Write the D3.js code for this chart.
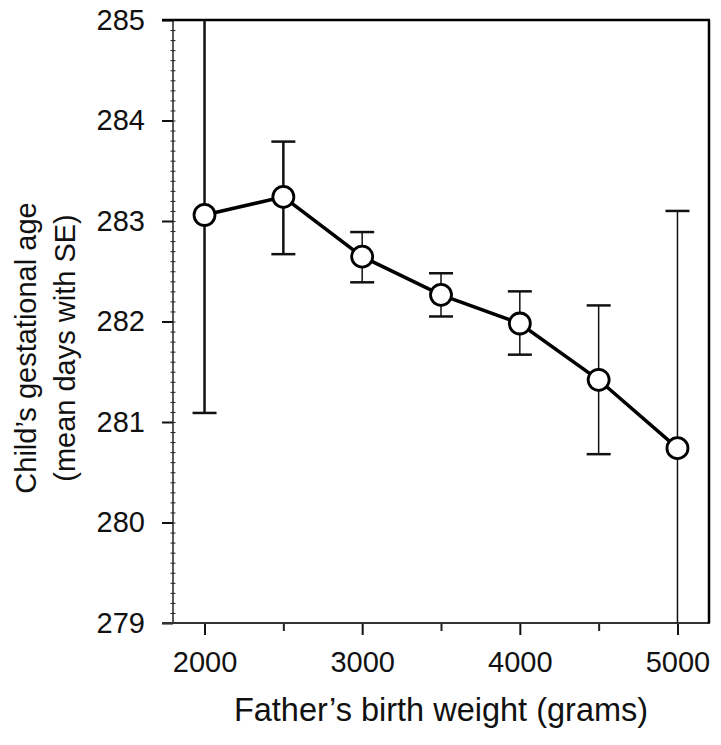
<!DOCTYPE html>
<html>
<head>
<meta charset="utf-8">
<script src="https://cdn.jsdelivr.net/npm/d3@7"></script>
<style>
	body { margin: 0; background: #fff; }
	svg { display: block; font-family: "Liberation Sans", Arial, sans-serif; }
</style>
</head>
<body>
<svg></svg>
<script>
// data
var weights = [2000, 2500, 3000, 3500, 4000, 4500, 5000];
var meanDays = [283.06, 283.24, 282.645, 282.265, 281.98, 281.42, 280.74];
var upperSE = [285.03, 283.79, 282.89, 282.48, 282.30, 282.16, 283.10];
var lowerSE = [281.09, 282.67, 282.39, 282.05, 281.67, 280.68, 278.38];
var xTicks = [2000, 3000, 4000, 5000];
var yTicks = [279, 280, 281, 282, 283, 284, 285];

var width = 721;
var height = 745;
var plotLeft = 173, plotRight = 709, plotTop = 20, plotBottom = 623;

var data = weights.map((w, i) => ({
	x: w, y: meanDays[i], hi: upperSE[i], lo: lowerSE[i]
}));

var svg = d3.select("svg")
	.attr("width", width)
	.attr("height", height);

var xScale = d3.scaleLinear()
	.domain([1800, 5200])
	.range([plotLeft, plotRight]);

var yScale = d3.scaleLinear()
	.domain([279, 285])
	.range([plotBottom, plotTop]);

// clip marks to plot box
svg.append("clipPath")
	.attr("id", "plot")
	.append("rect")
	.attr("x", plotLeft)
	.attr("y", plotTop)
	.attr("width", plotRight - plotLeft)
	.attr("height", plotBottom - plotTop);

// minor y ticks (every 0.1, crossing the axis)
svg.append("g")
	.attr("transform", `translate(${plotLeft + 2.5}, 0)`)
	.call(d3.axisLeft(yScale).ticks(60).tickSize(5).tickFormat(""))
	.call(g => g.select(".domain").remove())
	.selectAll("line")
		.attr("stroke", "#222")
		.attr("stroke-width", 1);

// major y ticks
svg.append("g")
	.attr("transform", `translate(${plotLeft}, 0)`)
	.call(d3.axisLeft(yScale).tickValues(yTicks).tickSize(11).tickPadding(17).tickFormat(d3.format("d")))
	.call(g => g.select(".domain").remove())
	.call(g => g.selectAll("line").attr("stroke", "#111").attr("stroke-width", 2))
	.selectAll("text")
		.style("font-size", "29px")
		.attr("fill", "#111");

// x ticks: minor at 500s, major at 1000s
svg.append("g")
	.attr("transform", `translate(0, ${plotBottom})`)
	.call(d3.axisBottom(xScale).tickValues([2500, 3500, 4500]).tickSize(8).tickFormat(""))
	.call(g => g.select(".domain").remove())
	.selectAll("line")
		.attr("stroke", "#222")
		.attr("stroke-width", 2);

svg.append("g")
	.attr("transform", `translate(0, ${plotBottom})`)
	.call(d3.axisBottom(xScale).tickValues(xTicks).tickSize(12).tickPadding(16).tickFormat(d3.format("d")))
	.call(g => g.select(".domain").remove())
	.call(g => g.selectAll("line").attr("stroke", "#111").attr("stroke-width", 2))
	.selectAll("text")
		.style("font-size", "29px")
		.attr("fill", "#111");

// frame
svg.append("line")
	.attr("x1", plotLeft).attr("x2", plotLeft)
	.attr("y1", plotTop).attr("y2", plotBottom)
	.attr("stroke", "#222").attr("stroke-width", 1.5);
svg.append("line")
	.attr("x1", plotLeft - 11).attr("x2", plotRight + 1)
	.attr("y1", plotBottom).attr("y2", plotBottom)
	.attr("stroke", "#333").attr("stroke-width", 2);
svg.append("line")
	.attr("x1", plotLeft - 11).attr("x2", plotRight + 1)
	.attr("y1", plotTop).attr("y2", plotTop)
	.attr("stroke", "#000").attr("stroke-width", 2.5);
svg.append("line")
	.attr("x1", plotRight).attr("x2", plotRight)
	.attr("y1", plotTop).attr("y2", plotBottom)
	.attr("stroke", "#000").attr("stroke-width", 2.5);

var marks = svg.append("g")
	.attr("clip-path", "url(#plot)");

// error bars
marks.selectAll(".err")
	.data(data)
	.enter()
	.append("line")
	.classed("err", true)
	.attr("x1", d => xScale(d.x))
	.attr("x2", d => xScale(d.x))
	.attr("y1", d => yScale(d.hi))
	.attr("y2", d => yScale(d.lo))
	.attr("stroke", "#111")
	.attr("stroke-width", (d, i) => i < 2 ? 2.5 : 1.5);

var caps = [];
data.forEach(d => { caps.push({x: d.x, y: d.hi}); caps.push({x: d.x, y: d.lo}); });

marks.selectAll(".cap")
	.data(caps.filter(c => c.y < 285 && c.y > 279))
	.enter()
	.append("line")
	.classed("cap", true)
	.attr("x1", d => xScale(d.x) - 12)
	.attr("x2", d => xScale(d.x) + 12)
	.attr("y1", d => yScale(d.y))
	.attr("y2", d => yScale(d.y))
	.attr("stroke", "#111")
	.attr("stroke-width", 2.5);

// mean line
marks.append("path")
	.datum(data)
	.attr("d", d3.line().x(d => xScale(d.x)).y(d => yScale(d.y)))
	.attr("fill", "none")
	.attr("stroke", "#000")
	.attr("stroke-width", 3.5);

marks.selectAll("circle")
	.data(data)
	.enter()
	.append("circle")
	.attr("cx", d => xScale(d.x))
	.attr("cy", d => yScale(d.y))
	.attr("r", 10.5)
	.attr("fill", "#fff")
	.attr("stroke", "#000")
	.attr("stroke-width", 2.8);

// axis titles
svg.append("text")
	.attr("x", (plotLeft + plotRight) / 2)
	.attr("y", 721)
	.style("text-anchor", "middle")
	.style("font-size", "32.5px")
	.attr("fill", "#111")
	.text("Father’s birth weight (grams)");

var yTitle = svg.append("text")
	.attr("transform", "rotate(-90)")
	.style("text-anchor", "middle")
	.style("font-size", "29px")
	.attr("fill", "#111");

yTitle.append("tspan")
	.attr("x", -348)
	.attr("y", 36)
	.text("Child’s gestational age");
yTitle.append("tspan")
	.attr("x", -348)
	.attr("y", 75)
	.text("(mean days with SE)");
</script>
</body>
</html>
